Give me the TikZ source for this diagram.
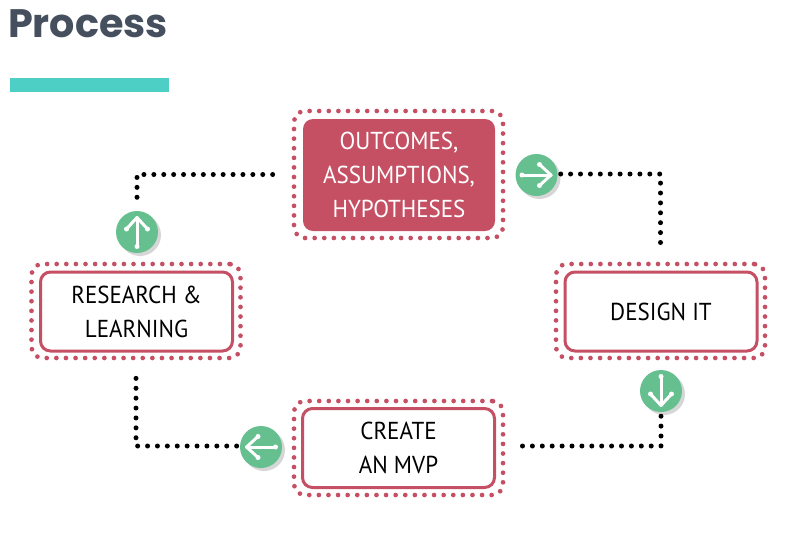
\documentclass[tikz,border=0pt]{standalone}
\usepackage{fontspec}
\setmainfont{PT Sans}[FakeStretch=0.94]
\newfontfamily\titlefont{Poppins}[BoldFont={Poppins Bold}]
\definecolor{rosec}{HTML}{C55064}
\definecolor{greenc}{HTML}{66BF8F}
\definecolor{tealc}{HTML}{4ECFC5}
\definecolor{slatec}{HTML}{454F5E}
\definecolor{shadowc}{HTML}{D6D6D6}
\tikzset{
  x=1pt,y=-1pt,
  dotframe/.style={draw=rosec,line width=4.7pt,line cap=round,dash pattern=on 0pt off 9.6pt,rounded corners=11pt,minimum width=209pt,minimum height=#1,inner sep=0pt},
  boxbase/.style={rounded corners=10pt,minimum width=192pt,minimum height=79pt,inner sep=0pt,align=center,font=\fontsize{24.5}{34}\selectfont},
  plainbox/.style={boxbase,draw=rosec,line width=3pt,text=black,fill=white},
  filledbox/.style={boxbase,fill=rosec,text=white,minimum height=112pt},
  dotline/.style={line width=5pt,line cap=round,dash pattern=on 0pt off 9.9pt,black},
  badge/.style={circle,fill=greenc,minimum size=42pt,inner sep=0pt},
  badgeshadow/.style={circle,fill=shadowc,minimum size=42pt,inner sep=0pt},
  icon/.style={draw=white,line width=3pt,line cap=round,line join=round}
}
\newcommand{\badgeat}[4]{%
  \node[badgeshadow] (#1s) at (#2+3,#3+3) {};
  \node[badge] (#1) at (#2,#3) {};
  \begin{scope}[shift={(#1.center)},rotate=#4]
    \draw[icon] (-14.5,0) -- (14.5,0);
    \draw[icon] (3,-10.5) -- (14.5,0) -- (3,10.5);
    \fill[white] (-14.5,0) circle (2.5pt) (3,-10.5) circle (2.5pt) (3,10.5) circle (2.5pt);
  \end{scope}
}
\begin{document}
\begin{tikzpicture}
\useasboundingbox (0,0) rectangle (799,533);
% title
\node[anchor=base west,inner sep=0pt,text=slatec,font=\titlefont\bfseries\fontsize{39.7}{39.7}\selectfont] (title) at (8,37) {Process};
\node[fill=tealc,minimum width=159pt,minimum height=14.5pt,inner sep=0pt,anchor=north west] (bar) at (10,77.5) {};
% frames
\node[dotframe=127pt] (fo) at (398.5,174.5) {};
\node[dotframe=94pt] (fl) at (136,311) {};
\node[dotframe=94pt] (fr) at (660.5,311) {};
\node[dotframe=94pt] (fb) at (398.5,448) {};
% boxes
\node[filledbox] (outcomes) at (399,175) {OUTCOMES,\\ASSUMPTIONS,\\HYPOTHESES};
\node[plainbox] (research) at (136.5,311.5) {RESEARCH \&\\LEARNING};
\node[plainbox] (design) at (661,311.5) {DESIGN IT};
\node[plainbox] (mvp) at (398.5,448) {CREATE\\AN MVP};
% badges
\badgeat{bup}{137}{232}{90}
\badgeat{bright}{536.5}{175}{0}
\badgeat{bdown}{661}{391}{-90}
\badgeat{bleft}{261}{447}{180}
% connectors
\draw[dotline] ([xshift=-19pt]fo.west) -| ([yshift=6pt]bup.north);
\draw[dotline] ([xshift=3pt,yshift=1pt]bright.east) -| ([yshift=18pt]fr.north);
\draw[dotline] ([yshift=-4pt]bdown.south) |- ([xshift=15.5pt,yshift=2pt]fb.east);
\draw[dotline] ([yshift=-18pt]fl.south) |- ([xshift=-3pt,yshift=1pt]bleft.west);
\end{tikzpicture}
\end{document}
